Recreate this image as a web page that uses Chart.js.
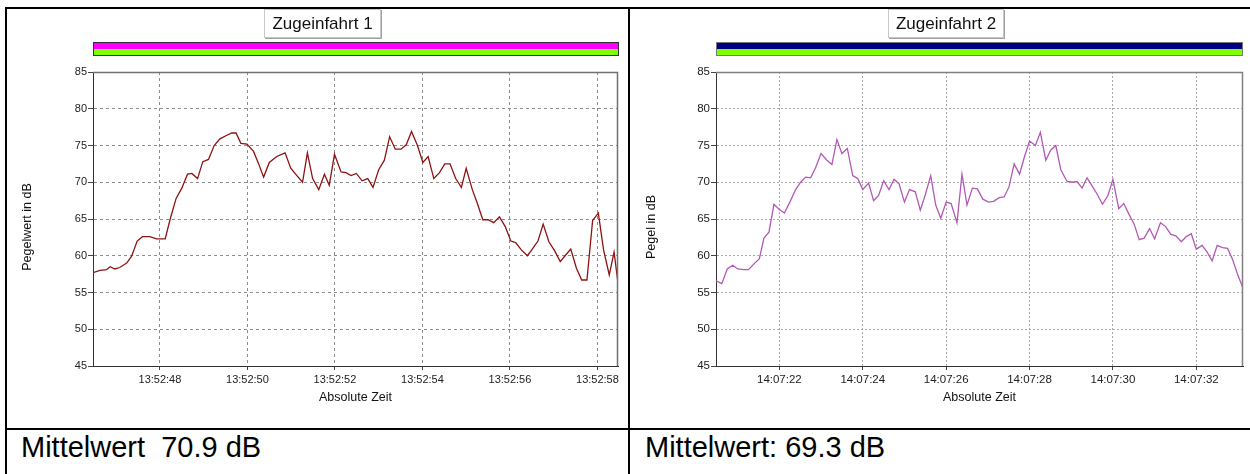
<!DOCTYPE html>
<html>
<head>
<meta charset="utf-8">
<script src="https://cdn.jsdelivr.net/npm/chart.js@4"></script>
<style>
  body { margin: 0; background: #fff; }
  #page { position: relative; width: 1250px; height: 474px; overflow: hidden; font-family: "Liberation Sans", Arial, sans-serif; }
  .rule { position: absolute; background: #000; z-index: 3; }
  canvas { position: absolute; top: 0; }
  .title { position: absolute; top: 9px; height: 27px; border: 1px solid #c8c8c8; box-shadow: 1px 1px 0 #a0a0a0;
           font-size: 17px; line-height: 27px; text-align: center; color: #111; background: #fff; z-index: 2; }
  .bar { position: absolute; top: 42px; height: 12px; border: 1px solid #333; z-index: 2; }
  .bar div { height: 6px; }
  .mean { position: absolute; top: 431px; font-size: 29px; line-height: 32px; white-space: pre; color: #000; }
</style>
</head>
<body>
<div id="page">
  <canvas id="chart1" width="630" height="430" style="left:0"></canvas>
  <canvas id="chart2" width="620" height="430" style="left:630px"></canvas>

  <div class="title" style="left:264px;width:115px">Zugeinfahrt 1</div>
  <div class="bar" style="left:93px;width:524px"><div style="background:#ff00ff"></div><div style="background:#80ff00"></div></div>

  <div class="title" style="left:888px;width:114px">Zugeinfahrt 2</div>
  <div class="bar" style="left:716px;width:525px;border-color:#777"><div style="background:#000080"></div><div style="background:#7fff00"></div></div>

  <div class="rule" style="left:5px;top:7px;width:1245px;height:2px"></div>
  <div class="rule" style="left:5px;top:7px;width:2px;height:467px"></div>
  <div class="rule" style="left:628px;top:7px;width:2px;height:467px"></div>
  <div class="rule" style="left:5px;top:428px;width:1245px;height:2px"></div>

  <div class="mean" style="left:21px">Mittelwert  70.9 dB</div>
  <div class="mean" style="left:645px">Mittelwert: 69.3 dB</div>
</div>
<script>
// Zugeinfahrt 1: seconds after 13:52:00, level in dB
const times1 = [46.47, 46.63, 46.78, 46.86, 46.97, 47.08, 47.24, 47.35, 47.48, 47.60,
  47.77, 47.92, 48.12, 48.23, 48.37, 48.50, 48.63, 48.73, 48.86, 48.98,
  49.11, 49.24, 49.37, 49.53, 49.64, 49.74, 49.85, 49.99, 50.14, 50.25,
  50.37, 50.50, 50.67, 50.86, 50.99, 51.13, 51.26, 51.37, 51.49, 51.63,
  51.76, 51.87, 51.99, 52.14, 52.25, 52.37, 52.49, 52.62, 52.75, 52.87,
  53.00, 53.13, 53.25, 53.38, 53.51, 53.63, 53.75, 53.88, 54.01, 54.13,
  54.26, 54.39, 54.51, 54.63, 54.76, 54.89, 55.00, 55.14, 55.25, 55.38,
  55.50, 55.63, 55.76, 55.89, 56.02, 56.13, 56.26, 56.40, 56.51, 56.64,
  56.76, 56.89, 57.02, 57.15, 57.26, 57.39, 57.52, 57.64, 57.76, 57.89,
  58.02, 58.14, 58.27, 58.38, 58.47];
const values1 = [57.7, 58.0, 58.1, 58.5, 58.2, 58.4, 59.0, 59.9, 62.0, 62.6,
  62.6, 62.3, 62.3, 64.9, 67.8, 69.2, 71.1, 71.2, 70.5, 72.8,
  73.1, 75.0, 75.9, 76.4, 76.7, 76.7, 75.3, 75.2, 74.2, 72.6,
  70.7, 72.7, 73.5, 74.0, 71.9, 70.9, 70.0, 74.0, 70.5, 69.0,
  71.1, 69.6, 73.8, 71.4, 71.3, 70.9, 71.2, 70.2, 70.5, 69.3,
  71.7, 73.0, 76.2, 74.5, 74.5, 75.1, 76.9, 75.1, 72.7, 73.5,
  70.5, 71.3, 72.5, 72.5, 70.5, 69.3, 71.9, 69.0, 67.2, 64.9,
  64.9, 64.5, 65.3, 64.0, 62.0, 61.8, 60.8, 60.0, 60.9, 62.0,
  64.3, 61.9, 60.7, 59.2, 60.0, 60.9, 58.3, 56.7, 56.7, 64.8,
  65.8, 60.8, 57.4, 60.5, 56.3];

// Zugeinfahrt 2: seconds after 14:07:00, level in dB
const times2 = [20.48, 20.62, 20.75, 20.88, 21.00, 21.14, 21.26, 21.39, 21.52, 21.63,
  21.75, 21.87, 22.00, 22.12, 22.26, 22.39, 22.51, 22.63, 22.75, 22.87,
  23.00, 23.14, 23.26, 23.38, 23.50, 23.63, 23.76, 23.88, 24.00, 24.14,
  24.26, 24.38, 24.50, 24.63, 24.75, 24.87, 25.00, 25.12, 25.26, 25.38,
  25.50, 25.63, 25.75, 25.87, 26.00, 26.12, 26.26, 26.38, 26.50, 26.63,
  26.75, 26.88, 27.02, 27.14, 27.27, 27.39, 27.51, 27.63, 27.76, 27.88,
  28.00, 28.14, 28.26, 28.39, 28.51, 28.63, 28.75, 28.90, 29.02, 29.14,
  29.26, 29.38, 29.50, 29.63, 29.75, 29.88, 30.00, 30.14, 30.26, 30.38,
  30.51, 30.63, 30.75, 30.88, 31.00, 31.14, 31.26, 31.39, 31.51, 31.64,
  31.76, 31.88, 32.00, 32.14, 32.26, 32.38, 32.50, 32.63, 32.75, 32.87,
  33.00, 33.12];
const values2 = [56.6, 56.2, 58.2, 58.7, 58.2, 58.1, 58.1, 58.9, 59.6, 62.4,
  63.2, 67.0, 66.3, 65.8, 67.4, 69.0, 70.0, 70.7, 70.6, 72.0,
  73.9, 73.0, 72.4, 75.8, 73.9, 74.6, 70.9, 70.5, 69.0, 69.9,
  67.5, 68.2, 70.2, 69.0, 70.4, 69.8, 67.3, 69.0, 68.7, 66.2,
  68.3, 70.9, 66.9, 65.1, 67.3, 67.1, 64.5, 71.1, 66.9, 69.2,
  69.1, 67.7, 67.3, 67.4, 67.9, 68.0, 69.4, 72.5, 71.1, 73.5,
  75.6, 75.0, 76.8, 73.0, 74.4, 75.0, 71.7, 70.1, 70.0, 70.1,
  69.2, 70.6, 69.5, 68.3, 67.0, 68.2, 70.4, 66.4, 67.1, 65.7,
  64.3, 62.2, 62.4, 63.7, 62.3, 64.5, 64.0, 62.9, 62.7, 61.9,
  62.6, 63.0, 60.9, 61.4, 60.5, 59.3, 61.4, 61.1, 61.0, 59.5,
  57.3, 55.6];

const xTicks1 = [48, 50, 52, 54, 56, 58];
const xTicks2 = [22, 24, 26, 28, 30, 32];
const yTicks = [45, 50, 55, 60, 65, 70, 75, 80, 85];

// top/right frame of the plot + axis titles
const framePlugin = {
  id: "frame",
  afterDraw(chart, args, o) {
    const ctx = chart.ctx;
    const a = chart.chartArea;
    ctx.save();
    ctx.strokeStyle = o.color;
    ctx.lineWidth = 1.5;
    ctx.beginPath();
    ctx.moveTo(a.left, a.top + 0.5);
    ctx.lineTo(a.right - 0.5, a.top + 0.5);
    ctx.lineTo(a.right - 0.5, a.bottom);
    ctx.stroke();
    ctx.fillStyle = "#111";
    ctx.font = o.font;
    ctx.textAlign = "center";
    ctx.textBaseline = "middle";
    ctx.fillText(o.xTitle, (a.left + a.right) / 2, a.bottom + 32);
    ctx.translate(o.yTitleX, (a.top + a.bottom) / 2 + 8);
    ctx.rotate(-Math.PI / 2);
    ctx.fillText(o.yTitle, 0, 0);
    ctx.restore();
  }
};

function makeChart(id, c) {
  const tickFont = { family: "'Liberation Sans', Arial, sans-serif", size: c.tickSize };
  return new Chart(document.getElementById(id), {
    type: "line",
    data: {
      datasets: [{
        data: c.times.map((t, i) => ({ x: t, y: c.values[i] })),
        borderColor: c.color,
        borderWidth: 1.3,
        pointRadius: 0,
        tension: 0,
        fill: false
      }]
    },
    options: {
      responsive: false,
      animation: false,
      events: [],
      layout: { padding: { left: 0, right: c.padRight, top: 72, bottom: 14 } },
      plugins: {
        legend: { display: false },
        tooltip: { enabled: false },
        frame: { color: c.frameColor, font: "12.5px 'Liberation Sans', Arial, sans-serif",
                 xTitle: "Absolute Zeit", yTitle: c.yTitle, yTitleX: c.yTitleX }
      },
      scales: {
        x: {
          type: "linear",
          min: c.xMin,
          max: c.xMax,
          afterBuildTicks: s => { s.ticks = c.xTicks.map(v => ({ value: v })); },
          afterFit: s => { s.height = 50; },
          grid: { color: c.gridColor, tickColor: "#444", tickLength: 4 },
          border: { color: "#333", width: 1, dash: c.dash },
          ticks: { color: "#222", font: tickFont, padding: 3, maxRotation: 0, autoSkip: false,
                   callback: v => c.prefix + v }
        },
        y: {
          min: 45,
          max: 85,
          afterBuildTicks: s => { s.ticks = yTicks.map(v => ({ value: v })); },
          afterFit: s => { s.width = c.yWidth; },
          grid: { color: c.gridColor, tickColor: "#444", tickLength: 5 },
          border: { color: "#333", width: 1, dash: c.dash },
          ticks: { color: "#222", font: tickFont, padding: 1 }
        }
      }
    },
    plugins: [framePlugin]
  });
}

makeChart("chart1", {
  times: times1, values: values1, xTicks: xTicks1, prefix: "13:52:",
  xMin: 46.47, xMax: 58.47, color: "#8e1212", gridColor: "#8c8c8c", dash: [3, 3],
  frameColor: "#707070", padRight: 12, yWidth: 93, yTitle: "Pegelwert in dB", yTitleX: 28, tickSize: 11
});

makeChart("chart2", {
  times: times2, values: values2, xTicks: xTicks2, prefix: "14:07:",
  xMin: 20.48, xMax: 33.12, color: "#b458b8", gridColor: "#a8a8a8", dash: [2, 2],
  frameColor: "#808080", padRight: 7, yWidth: 86, yTitle: "Pegel in dB", yTitleX: 22, tickSize: 11.5
});
</script>
</body>
</html>
